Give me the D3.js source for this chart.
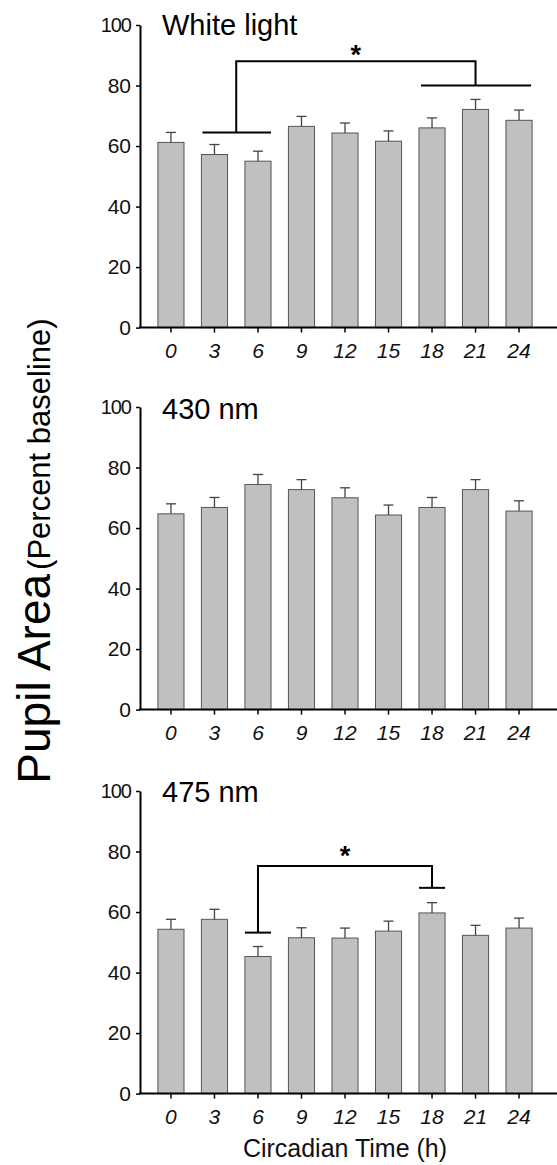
<!DOCTYPE html>
<html>
<head>
<meta charset="utf-8">
<script src="https://cdn.jsdelivr.net/npm/d3@7"></script>
<style>
  body { margin: 0; background: #fff; }
  svg { display: block; font-family: "Liberation Sans", Arial, sans-serif; }
</style>
</head>
<body>
<div id="chart"></div>
<script>
const w = 557, h = 1165;

// circadian time categories
const ctLabels = ["0", "3", "6", "9", "12", "15", "18", "21", "24"];
const yTicks = [0, 20, 40, 60, 80, 100];

// white light
const whiteMean = [61.2, 57.2, 55.0, 66.5, 64.3, 61.6, 66.0, 72.1, 68.5];
const whiteErr  = [3.3, 3.3, 3.3, 3.3, 3.3, 3.4, 3.3, 3.3, 3.4];
// 430 nm
const nm430Mean = [64.7, 66.8, 74.4, 72.7, 70.0, 64.3, 66.8, 72.7, 65.6];
const nm430Err  = [3.3, 3.3, 3.3, 3.3, 3.3, 3.3, 3.3, 3.3, 3.4];
// 475 nm
const nm475Mean = [54.3, 57.6, 45.3, 51.5, 51.4, 53.7, 59.7, 52.3, 54.7];
const nm475Err  = [3.3, 3.3, 3.3, 3.3, 3.3, 3.3, 3.4, 3.3, 3.3];

const panels = [
  {title: "White light", mean: whiteMean, err: whiteErr, top: 25, titleDy: 9.5,
   sig: {left: ["3", "6"], leftY: 64.5, right: ["18", "24"], rightY: 80, topY: 88, starY: 91}},
  {title: "430 nm", mean: nm430Mean, err: nm430Err, top: 407, titleDy: 11.5, sig: null},
  {title: "475 nm", mean: nm475Mean, err: nm475Err, top: 791, titleDy: 11,
   sig: {left: ["6", "6"], leftY: 53.2, right: ["18", "18"], rightY: 68, topY: 75.2, starY: 79.5}}
];

const panelH = 302.6;
const font = "'Liberation Sans', Arial, sans-serif";

const svg = d3.select("#chart")
  .append("svg")
  .attr("width", w)
  .attr("height", h)
  .attr("viewBox", [0, 0, w, h]);

const x = d3.scaleBand(ctLabels, [140.5, 549.5]).padding(0.4);
const bw = x.bandwidth();

for (let p of panels) {
  const y = d3.scaleLinear([0, 100], [p.top + panelH, p.top]);
  const g = svg.append("g");

  // bars
  g.selectAll("rect")
    .data(p.mean)
    .join("rect")
    .attr("x", (d, i) => x(ctLabels[i]))
    .attr("y", d => y(d))
    .attr("width", bw)
    .attr("height", d => y(0) - y(d))
    .attr("fill", "#c0c0c0")
    .attr("stroke", "#555")
    .attr("stroke-width", 1);

  // error bars (upper only)
  const eb = g.append("g").attr("stroke", "#444").attr("stroke-width", 1.3);
  eb.selectAll("line.v")
    .data(p.mean)
    .join("line")
    .attr("class", "v")
    .attr("x1", (d, i) => x(ctLabels[i]) + bw / 2)
    .attr("x2", (d, i) => x(ctLabels[i]) + bw / 2)
    .attr("y1", d => y(d))
    .attr("y2", (d, i) => y(d + p.err[i]));
  eb.selectAll("line.c")
    .data(p.mean)
    .join("line")
    .attr("class", "c")
    .attr("x1", (d, i) => x(ctLabels[i]) + bw / 2 - 5)
    .attr("x2", (d, i) => x(ctLabels[i]) + bw / 2 + 5)
    .attr("y1", (d, i) => y(d + p.err[i]))
    .attr("y2", (d, i) => y(d + p.err[i]));

  // y axis
  const ya = g.append("g")
    .attr("transform", `translate(140,0)`)
    .call(d3.axisLeft(y).tickValues(yTicks).tickSize(4).tickPadding(5).tickSizeOuter(0));
  ya.attr("font-family", font);
  ya.select(".domain").attr("stroke-width", 2);
  ya.selectAll(".tick line").attr("stroke-width", 1.5);
  ya.selectAll("text").attr("font-size", 21).attr("fill", "#111");
  ya.selectAll(".tick").filter(d => d === 100).select("text").attr("font-size", 20).attr("letter-spacing", -1);

  // x axis
  const xa = g.append("g")
    .attr("transform", `translate(0,${y(0)})`)
    .call(d3.axisBottom(x).tickSize(5).tickPadding(10).tickSizeOuter(0));
  xa.attr("font-family", font);
  xa.select(".domain").remove();
  xa.selectAll(".tick line").attr("stroke-width", 1.5);
  xa.selectAll("text").attr("font-size", 21).attr("font-style", "italic").attr("fill", "#111");
  g.append("line")
    .attr("x1", 139).attr("x2", w)
    .attr("y1", y(0)).attr("y2", y(0))
    .attr("stroke", "#000").attr("stroke-width", 2);

  // panel title
  g.append("text")
    .attr("x", 162)
    .attr("y", p.top + p.titleDy)
    .attr("font-size", 29)
    .attr("fill", "#000")
    .text(p.title);

  // significance bracket
  if (p.sig) {
    const s = p.sig;
    const lx0 = x(s.left[0]), lx1 = x(s.left[1]) + bw;
    const rx0 = x(s.right[0]), rx1 = x(s.right[1]) + bw;
    const lm = (lx0 + lx1) / 2, rm = (rx0 + rx1) / 2;
    const pad = s.left[0] === s.left[1] ? 0 : 1;
    const br = g.append("g").attr("stroke", "#000").attr("stroke-width", 2).attr("fill", "none");
    br.append("line").attr("x1", lx0 + pad).attr("x2", lx1).attr("y1", y(s.leftY)).attr("y2", y(s.leftY));
    br.append("line").attr("x1", rx0 + 2 * pad).attr("x2", rx1 - pad).attr("y1", y(s.rightY)).attr("y2", y(s.rightY));
    br.append("path")
      .attr("d", `M${lm},${y(s.leftY)}V${y(s.topY)}H${rm}V${y(s.rightY)}`);
    g.append("text")
      .attr("x", (lm + rm) / 2)
      .attr("y", y(s.starY) + 12)
      .attr("text-anchor", "middle")
      .attr("font-size", 27)
      .attr("font-weight", "bold")
      .text("*");
  }
}

// x axis title
svg.append("text")
  .attr("x", 345)
  .attr("y", 1157)
  .attr("text-anchor", "middle")
  .attr("font-size", 25)
  .attr("fill", "#111")
  .text("Circadian Time (h)");

// y axis title
const yl = svg.append("text")
  .attr("transform", "translate(50,551) rotate(-90)")
  .attr("text-anchor", "middle")
  .attr("fill", "#000");
yl.append("tspan").attr("font-size", 46).text("Pupil Area");
yl.append("tspan").attr("font-size", 31).attr("dx", 4).text("(Percent baseline)");
</script>
</body>
</html>
